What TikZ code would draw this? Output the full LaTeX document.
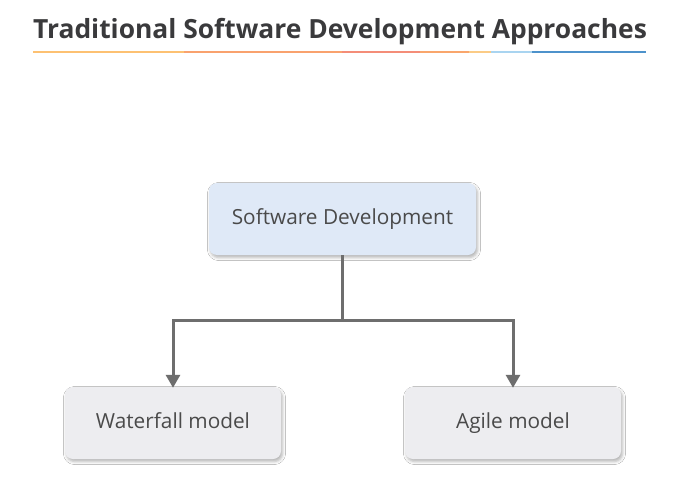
\documentclass[tikz,border=0pt]{standalone}
\usepackage{fontspec}
\setmainfont{Open Sans}
\usetikzlibrary{shadows.blur,arrows.meta}
\definecolor{titlegray}{HTML}{3A3A3C}
\definecolor{textgray}{HTML}{4A4A4A}
\definecolor{linkgray}{HTML}{6E6E6E}
\definecolor{topfill}{HTML}{DFE9F7}
\definecolor{leaffill}{HTML}{EDEDF0}
\definecolor{ulA}{HTML}{FDC172}
\definecolor{ulB}{HTML}{F9A26E}
\definecolor{ulC}{HTML}{F48D78}
\definecolor{ulD}{HTML}{F9A66C}
\definecolor{ulE}{HTML}{FBCB86}
\definecolor{ulF}{HTML}{A9D4F0}
\definecolor{ulG}{HTML}{4D92CB}
\tikzset{
  box/.style={rounded corners=8pt, minimum width=#1, minimum height=72pt,
    inner sep=0pt, font=\fontsize{20.8}{24}\selectfont, text=textgray,
    text height=15pt, text depth=5pt,
    blur shadow={shadow xshift=1.5pt, shadow yshift=-2.5pt,
      shadow blur radius=3pt, shadow opacity=30}},
  topbox/.style={box=267pt, fill=topfill},
  leafbox/.style={box=216pt, fill=leaffill},
  link/.style={draw=linkgray, line width=3pt,
    -{Triangle[length=13pt,width=14pt]}},
  ulseg/.style={line width=2.8pt}
}
\begin{document}
\begin{tikzpicture}[x=1pt,y=-1pt]
\useasboundingbox[fill=white] (0,0) rectangle (680,495);
% heading
\node[font=\fontsize{26.4}{30}\selectfont\bfseries, text=titlegray]
  (title) at (340,32) {Traditional Software Development Approaches};
% coloured rule under the heading
\draw[ulseg,ulA] (33,52) -- (184,52);
\draw[ulseg,ulB] (184,52) -- (342,52);
\draw[ulseg,ulC] (342,52) -- (420,52);
\draw[ulseg,ulD] (420,52) -- (469,52);
\draw[ulseg,ulE] (469,52) -- (491,52);
\draw[ulseg,ulF] (491,52) -- (532,52);
\draw[ulseg,ulG] (532,52) -- (646,52);
% tree
\node[topbox] (sd) at (342.5,219) {Software Development};
\node[leafbox] (wf) at (173,423) {Waterfall model};
\node[leafbox] (ag) at (513,423) {Agile model};
\coordinate (fork) at (342.5,320);
\draw[link] (sd.south) -- (fork) -| ([yshift=-1pt]wf.north);
\draw[link] (fork) -| ([yshift=-1pt]ag.north);
\end{tikzpicture}
\end{document}
